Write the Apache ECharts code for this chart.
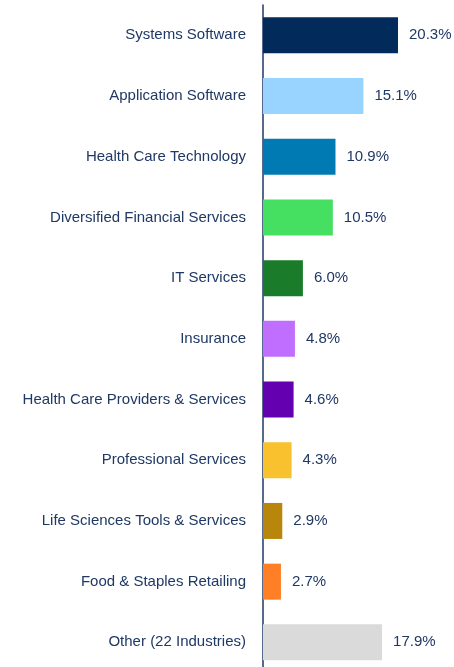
<!DOCTYPE html>
<html>
<head>
<meta charset="utf-8">
<script src="https://cdn.jsdelivr.net/npm/echarts@6/dist/echarts.min.js"></script>
<style>
  html, body { margin: 0; padding: 0; background: #fff; }
  #chart { width: 454px; height: 667px; }
</style>
</head>
<body>
<div id="chart"></div>
<script>
// industries, top to bottom
const industries = [
  'Systems Software',
  'Application Software',
  'Health Care Technology',
  'Diversified Financial Services',
  'IT Services',
  'Insurance',
  'Health Care Providers & Services',
  'Professional Services',
  'Life Sciences Tools & Services',
  'Food & Staples Retailing',
  'Other (22 Industries)'
]
const shares = [20.3, 15.1, 10.9, 10.5, 6.0, 4.8, 4.6, 4.3, 2.9, 2.7, 17.9]
const barColors = [
  '#022B5C', '#99D3FF', '#007AB2', '#45DF62', '#1A7B2B', '#C06EFF',
  '#6400B0', '#FAC12E', '#B8860B', '#FF7F27', '#DADADA'
]

const textColor = '#1F3864'
const chart = echarts.init(document.getElementById('chart'))

const option = {
  animation: false,
  grid: {
    left: 263,
    top: 5,
    width: 186.2,
    height: 667.7,
    outerBoundsMode: 'none'
  },
  xAxis: {
    type: 'value',
    min: 0,
    max: 28,
    show: false
  },
  yAxis: {
    type: 'category',
    inverse: true,
    data: industries,
    axisLine: { show: true, lineStyle: { color: '#1F3864', width: 1.5 } },
    axisTick: { show: false },
    axisLabel: {
      margin: 17,
      color: textColor,
      fontSize: 15,
      fontFamily: 'Liberation Sans, Arial, sans-serif'
    }
  },
  series: [
    {
      type: 'bar',
      data: shares.map((v, i) => ({ value: v, itemStyle: { color: barColors[i] } })),
      barWidth: 36,
      label: {
        show: true,
        position: 'right',
        distance: 11,
        color: textColor,
        fontSize: 15,
        fontFamily: 'Liberation Sans, Arial, sans-serif',
        formatter: p => p.value.toFixed(1) + '%'
      }
    }
  ]
}

chart.setOption(option)
</script>
</body>
</html>
